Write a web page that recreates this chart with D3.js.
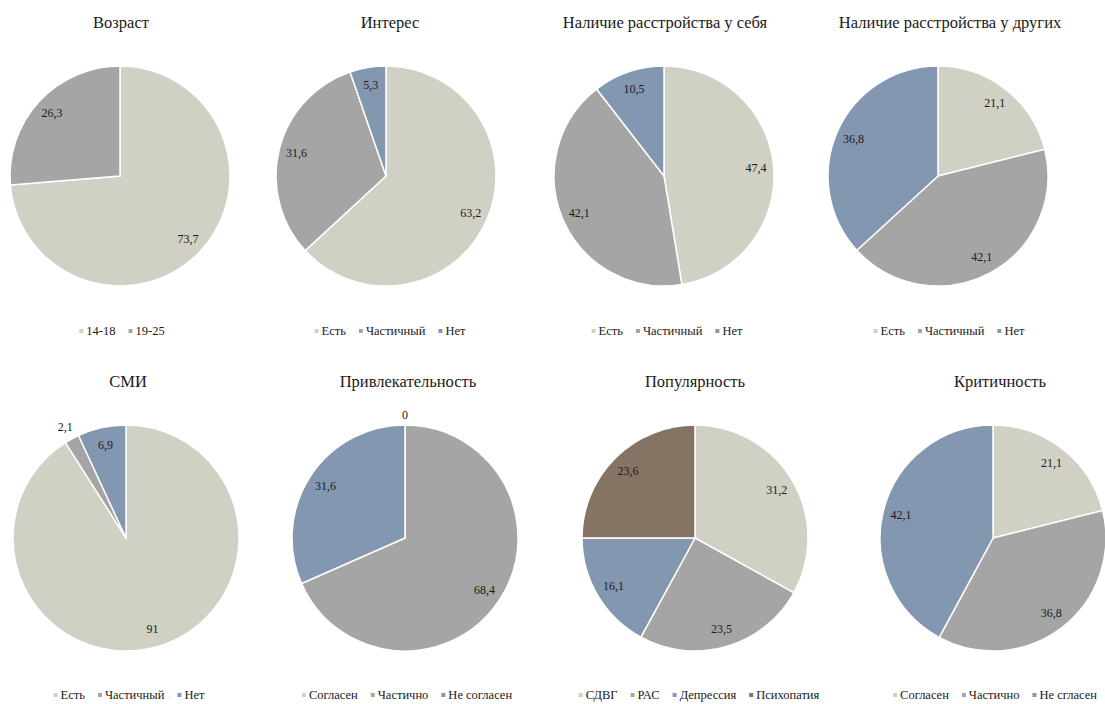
<!DOCTYPE html>
<head>
  <style>
    body { margin: 0; background: #fff; }
  </style>
</head>
<body>
<svg id="chart" width="1105" height="704"></svg>
<script src="https://d3js.org/d3.v7.min.js"></script>
<script>
// --- data ---
var titles = ["Возраст", "Интерес", "Наличие расстройства у себя", "Наличие расстройства у других",
              "СМИ", "Привлекательность", "Популярность", "Критичность"];

var ageCats = ["14-18", "19-25"];
var ageVals = [73.7, 26.3];

var yesNoCats = ["Есть", "Частичный", "Нет"];
var interestVals = [63.2, 31.6, 5.3];
var selfVals = [47.4, 42.1, 10.5];
var othersVals = [21.1, 42.1, 36.8];
var mediaVals = [91, 2.1, 6.9];

var agreeCats = ["Согласен", "Частично", "Не согласен"];
var attractVals = [0, 68.4, 31.6];

var disorderCats = ["СДВГ", "РАС", "Депрессия", "Психопатия"];
var popularVals = [31.2, 23.5, 16.1, 23.6];

var criticCats = ["Согласен", "Частично", "Не сгласен"];
var criticVals = [21.1, 36.8, 42.1];

var colors = ["#d0d0c4", "#a5a5a5", "#8497b0", "#857463"];

var charts = [
  {title: titles[0], cats: ageCats, vals: ageVals},
  {title: titles[1], cats: yesNoCats, vals: interestVals},
  {title: titles[2], cats: yesNoCats, vals: selfVals},
  {title: titles[3], cats: yesNoCats, vals: othersVals},
  {title: titles[4], cats: yesNoCats, vals: mediaVals},
  {title: titles[5], cats: agreeCats, vals: attractVals},
  {title: titles[6], cats: disorderCats, vals: popularVals},
  {title: titles[7], cats: criticCats, vals: criticVals}
];

// --- layout ---
var FONT = "'Liberation Serif'";
var svg = d3.select("#chart");
var pieX = [120, 386, 664, 938, 126, 405, 695, 993];
var titleX = [121, 390, 665, 950, 128, 408, 695, 1000];
var legendX = [122, 390, 667, 949, 129, 407, 699, 995];
var rows = [
  {cy: 176, r: 110, titleY: 28, legendY: 335},
  {cy: 538, r: 113, titleY: 387, legendY: 699}
];

var fmt = function(v) { return String(v).replace(".", ","); };

var pie = d3.pie().sort(null).value(function(d) { return d; });

charts.forEach(function(c, i) {
  var row = rows[Math.floor(i / 4)];
  var cx = pieX[i];
  var r = row.r;

  svg.append("text")
    .attr("x", titleX[i]).attr("y", row.titleY)
    .attr("text-anchor", "middle")
    .attr("font-size", 16.5)
    .attr("fill", "#1a1a1a")
    .style("font-family", FONT)
    .text(c.title);

  var g = svg.append("g").attr("transform", "translate(" + cx + "," + row.cy + ")");
  var arc = d3.arc().innerRadius(0).outerRadius(r);
  var arcs = pie(c.vals);

  g.selectAll("path")
    .data(arcs)
    .enter().append("path")
      .attr("d", arc)
      .attr("fill", function(d, j) { return colors[j]; })
      .attr("stroke", "#fff")
      .attr("stroke-width", 1.5);

  g.selectAll("text.lbl")
    .data(arcs)
    .enter().append("text")
      .attr("class", "lbl")
      .attr("text-anchor", "middle")
      .attr("font-size", 12)
      .attr("fill", "#1a1a1a")
      .style("font-family", FONT)
      .attr("transform", function(d) {
        var a = (d.startAngle + d.endAngle) / 2;
        var pct = d.data / d3.sum(c.vals);
        var k = d.data === 0 ? r + 10 : (pct < 0.03 ? r + 14 : r * 0.84);
        return "translate(" + (Math.sin(a) * k) + "," + (-Math.cos(a) * k + 4) + ")";
      })
      .text(function(d) { return fmt(d.data); });

  // legend
  var lg = svg.append("g");
  var x = 0;
  c.cats.forEach(function(name, j) {
    lg.append("rect")
      .attr("x", x).attr("y", row.legendY - 6)
      .attr("width", 4).attr("height", 4)
      .attr("fill", colors[j]);
    var t = lg.append("text")
      .attr("x", x + 7).attr("y", row.legendY)
      .attr("font-size", 12.5)
      .attr("fill", "#1a1a1a")
      .style("font-family", FONT)
      .text(name);
    x += 7 + t.node().getComputedTextLength() + 13;
  });
  var w = x - 13;
  lg.attr("transform", "translate(" + (legendX[i] - w / 2) + ",0)");
});
</script>
</body>
